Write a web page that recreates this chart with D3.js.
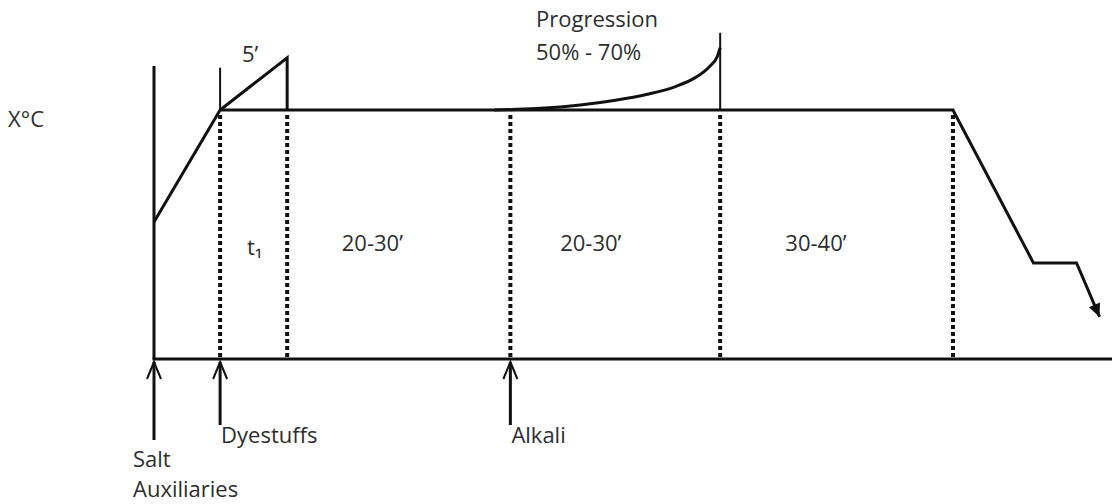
<!DOCTYPE html>
<html>
<head>
<meta charset="utf-8">
<script src="https://cdn.jsdelivr.net/npm/d3@7"></script>
<style>
  html, body { margin: 0; padding: 0; background: #fff; }
  svg { display: block; }
  text { font-family: "Open Sans", sans-serif; fill: #2e2e2e; font-size: 22px; }
</style>
</head>
<body>
<svg id="chart"></svg>
<script>
// temperature profile (time units, temperature in % of X°C)
const profileTime = [0, 6.9, 83.4, 91.8, 96.3];
const profileTemp = [55, 100, 100, 38.6, 38.6];
const endArrowTime = 98.7, endArrowTemp = 16.9;

// 5' overshoot triangle
const overshootTime = [6.9, 13.9, 13.9];
const overshootTemp = [100, 121, 100];

// progression curve
const progTime = [35.5, 40, 44.5, 48, 51.5, 54.5, 56.5, 58, 58.8, 59.1];
const progTemp = [100, 100.6, 102, 103.8, 106.3, 109.5, 113, 117.5, 121.5, 125];

// dotted phase boundaries
const phaseTimes = [6.9, 13.9, 37.2, 59.1, 83.4];

// phase labels
const phaseLabels = ['t\u2081', '20-30\u2019', '20-30\u2019', '30-40\u2019'];
const phaseLabelTime = [9.7, 19.6, 42.4, 65.9];

// dosing events
const eventTimes = [0, 6.9, 37.2];
const eventLabels = [['Salt', 'Auxiliaries'], ['Dyestuffs'], ['Alkali']];

const width = 1112;
const height = 504;

const svg = d3.select('#chart')
    .attr('width', width)
    .attr('height', height);

const x = d3.scaleLinear().domain([0, 100]).range([154, 1112]);
const y = d3.scaleLinear().domain([0, 100]).range([359, 110]);

const ink = '#111';

// axes
svg.append('line')
    .attr('x1', x(0)).attr('x2', x(0))
    .attr('y1', y(117.7)).attr('y2', y(0))
    .attr('stroke', ink).attr('stroke-width', 3);

svg.append('line')
    .attr('x1', x(0) - 1.5).attr('x2', width)
    .attr('y1', y(0)).attr('y2', y(0))
    .attr('stroke', ink).attr('stroke-width', 3);

// dotted lines
svg.selectAll('.phase')
    .data(phaseTimes)
    .enter()
    .append('line')
    .attr('class', 'phase')
    .attr('x1', d => x(d)).attr('x2', d => x(d))
    .attr('y1', y(98)).attr('y2', y(0))
    .attr('stroke', ink)
    .attr('stroke-width', 4)
    .attr('stroke-dasharray', '4,3');

// main profile
const line = d3.line()
    .x(d => x(d[0]))
    .y(d => y(d[1]));

svg.append('path')
    .attr('d', line(d3.zip(profileTime, profileTemp).concat([[endArrowTime, endArrowTemp]])))
    .attr('fill', 'none')
    .attr('stroke', ink)
    .attr('stroke-width', 3)
    .attr('stroke-linejoin', 'miter');

// end arrowhead
{
  const x0 = x(profileTime[profileTime.length - 1]), y0 = y(profileTemp[profileTemp.length - 1]);
  const x1 = x(endArrowTime), y1 = y(endArrowTemp);
  const a = Math.atan2(y1 - y0, x1 - x0);
  const L = 13, W = 6;
  const bx = x1 - L * Math.cos(a), by = y1 - L * Math.sin(a);
  const px = -Math.sin(a) * W, py = Math.cos(a) * W;
  svg.append('path')
      .attr('d', `M${x1},${y1}L${bx + px},${by + py}L${bx - px},${by - py}Z`)
      .attr('fill', ink);
}

// 5' overshoot
svg.append('line')
    .attr('x1', x(6.9)).attr('x2', x(6.9))
    .attr('y1', y(117)).attr('y2', y(100))
    .attr('stroke', ink).attr('stroke-width', 2);

svg.append('path')
    .attr('d', line(d3.zip(overshootTime, overshootTemp)))
    .attr('fill', 'none')
    .attr('stroke', ink)
    .attr('stroke-width', 3);

// progression
svg.append('path')
    .attr('d', d3.line().curve(d3.curveMonotoneX).x(d => x(d[0])).y(d => y(d[1]))(d3.zip(progTime, progTemp)))
    .attr('fill', 'none')
    .attr('stroke', ink)
    .attr('stroke-width', 3);

svg.append('line')
    .attr('x1', x(59.1)).attr('x2', x(59.1))
    .attr('y1', y(131)).attr('y2', y(100))
    .attr('stroke', ink).attr('stroke-width', 2);

// event arrows
const arrows = svg.selectAll('.event')
    .data(eventTimes)
    .enter()
    .append('g')
    .attr('class', 'event');

arrows.append('line')
    .attr('x1', d => x(d)).attr('x2', d => x(d))
    .attr('y1', (d, i) => i === 0 ? 440 : 425)
    .attr('y2', y(0) + 3)
    .attr('stroke', ink).attr('stroke-width', 3);

arrows.append('path')
    .attr('d', d => `M${x(d) - 7},${y(0) + 20}L${x(d)},${y(0) + 3}L${x(d) + 7},${y(0) + 20}`)
    .attr('fill', 'none')
    .attr('stroke', ink)
    .attr('stroke-width', 2);

arrows.each(function(d, i) {
  const g = d3.select(this);
  const lbl = eventLabels[i];
  if (i === 0) {
    lbl.forEach((t, j) => {
      g.append('text')
          .attr('x', x(d) - 21)
          .attr('y', 467 + j * 30)
          .text(t);
    });
  } else {
    g.append('text')
        .attr('x', x(d) + 1)
        .attr('y', 443)
        .text(lbl[0]);
  }
});

// phase labels
svg.selectAll('.plabel')
    .data(phaseLabels)
    .enter()
    .append('text')
    .attr('class', 'plabel')
    .attr('x', (d, i) => x(phaseLabelTime[i]))
    .attr('y', (d, i) => i === 0 ? 255 : 251)
    .text(d => d);

// other labels
svg.append('text')
    .attr('x', 8).attr('y', 127)
    .text('X°C');

svg.append('text')
    .attr('x', 242).attr('y', 62)
    .text('5\u2019');

svg.append('text')
    .attr('x', 536).attr('y', 27)
    .text('Progression');

svg.append('text')
    .attr('x', 536).attr('y', 60)
    .text('50% - 70%');
</script>
</body>
</html>
